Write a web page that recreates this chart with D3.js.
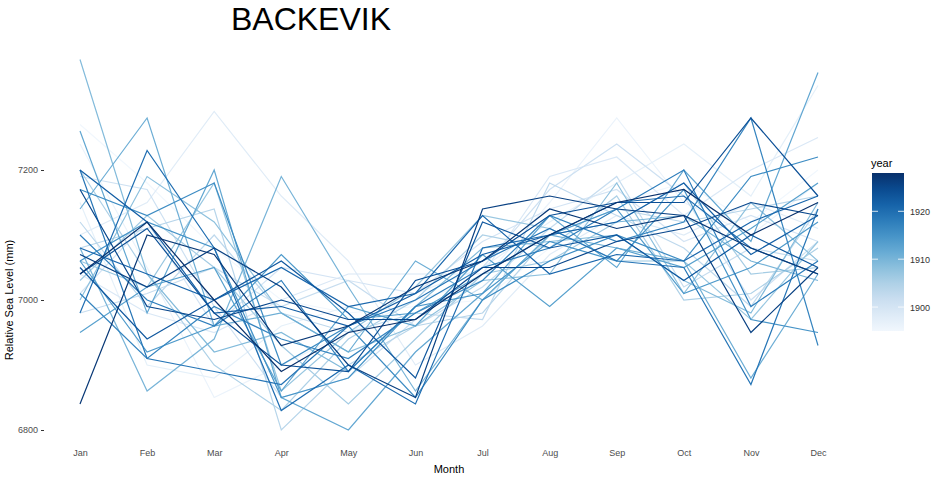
<!DOCTYPE html>
<html>
<head>
<meta charset="utf-8">
<script src="https://cdn.jsdelivr.net/npm/d3@7"></script>
<style>
  body { margin: 0; background: #fff; font-family: "Liberation Sans", Arial, sans-serif; }
</style>
</head>
<body>
<div id="chart"></div>
<script>
// Data
const months = ["Jan","Feb","Mar","Apr","May","Jun","Jul","Aug","Sep","Oct","Nov","Dec"];
const years = d3.range(1895, 1929);
const seaLevels = [
  [7270,7180,7080,7000,6980,6990,7000,7080,7150,7180,7120,7200],
  [7240,7050,6850,6900,6950,7000,7030,7150,7280,7150,7100,7180],
  [7150,6900,6880,6960,6990,7010,7050,7120,7180,7240,7160,7330],
  [7100,7150,7290,7160,7060,6900,6960,7070,7130,7100,7150,7110],
  [7040,6980,6950,7000,7040,7040,7040,7190,7220,7130,7200,7250],
  [7010,7120,6960,7050,7030,7010,7090,7140,7170,7090,7130,7090],
  [7190,7170,6990,6850,6880,6970,7050,7170,7240,7160,7000,7090],
  [6980,7010,7050,6990,7030,6960,7020,7110,7190,7020,7080,7060],
  [7120,6990,7100,6980,6950,6980,6970,7180,7130,7080,6990,7140],
  [7080,7110,7140,6800,6900,6960,6980,7100,7140,7120,7140,7160],
  [7200,7040,6900,6830,6940,7000,7100,7080,7160,7000,7010,7080],
  [7030,7130,7050,6930,6840,6940,7040,7060,7120,7180,7040,7050],
  [7060,7020,7180,6860,6950,7020,7130,7110,7060,7060,6970,7090],
  [7000,7190,7120,6980,6920,6960,7030,7040,7180,7010,7150,7060],
  [7370,7040,6920,6950,6890,6990,7080,7090,7100,7030,6980,7150],
  [7080,6860,6940,7190,7020,6860,7000,7100,7120,7130,7060,7030],
  [7140,7280,6960,6980,6920,7060,7000,7100,7080,7060,6880,7040],
  [7260,6980,7200,6850,6800,6920,7010,7130,7050,7200,7090,7350],
  [6950,7020,7050,6860,6990,6960,7070,6990,7080,7050,7110,7180],
  [7060,6920,6960,7070,6970,6980,7040,7100,7140,7010,7050,7120],
  [7060,7120,7080,6850,6880,6990,7010,7090,7060,7170,6970,6950],
  [7170,7130,7180,6900,6960,6850,7000,7060,7100,7060,7190,7220],
  [7010,6910,6990,6940,6910,6980,7030,7130,7090,7120,7280,6930],
  [7100,7000,6960,7030,6890,6990,7050,7080,7140,7200,6990,7060],
  [7200,6910,6890,6870,6960,7000,7060,7110,7060,7050,6870,7140],
  [6980,7230,7080,6830,6900,6840,7080,7100,7150,7160,7080,7040],
  [7080,7040,7000,7050,6990,7010,7130,7040,7070,7060,7120,7160],
  [7200,7120,6980,6990,6960,7010,7070,7100,7120,7180,7070,7130],
  [7050,6940,7000,7060,6980,6880,7120,7080,7100,7030,7100,7050],
  [7040,7110,6980,6900,6890,7030,7060,7130,7150,7150,7280,7160],
  [7170,6990,6970,7000,6970,6970,7050,7050,7090,7110,7150,7130],
  [7070,7020,7080,7020,6900,6850,7140,7160,7140,7130,6950,7050],
  [6840,7100,7070,6930,6960,7020,7060,7140,7110,7130,7080,7040],
  [7040,7120,7000,6890,6950,6970,7040,7100,7150,7170,7100,7150]
];
const yTicks = [6800, 7000, 7200];
const legendTicks = [1900, 1910, 1920];

const width = 940, height = 480;
const svg = d3.select("#chart").append("svg")
  .attr("width", width).attr("height", height);

const x = d3.scalePoint().domain(months).range([80, 818]);
const y = d3.scaleLinear().domain([6800, 7200]).range([430, 170]);
const color = d3.scaleSequential(t => d3.interpolateBlues(0.03 + t * 0.97))
  .domain([1895, 1928]);

// Title
svg.append("text").attr("x", 311).attr("y", 30)
  .attr("text-anchor", "middle").attr("font-size", 32).text("BACKEVIK");

// Lines
const line = d3.line().x((d, i) => x(months[i])).y(d => y(d));
svg.append("g").selectAll("path")
  .data(seaLevels)
  .join("path")
  .attr("d", line)
  .attr("fill", "none")
  .attr("stroke", (d, i) => color(years[i]))
  .attr("stroke-width", 1.2);

// Y axis
const yAxis = svg.append("g").attr("transform", "translate(44,0)")
  .call(d3.axisLeft(y).tickValues(yTicks).tickFormat(d3.format("d")).tickSize(3).tickPadding(3));
yAxis.select(".domain").remove();
yAxis.selectAll("line").attr("stroke", "#333");
yAxis.selectAll("text").attr("font-size", 9).attr("fill", "#4d4d4d")
  .attr("font-family", "Liberation Sans, Arial, sans-serif");

// X axis
const xAxis = svg.append("g").attr("transform", "translate(0,446)")
  .call(d3.axisBottom(x).tickSize(0).tickPadding(4));
xAxis.select(".domain").remove();
xAxis.selectAll("text").attr("font-size", 9).attr("fill", "#4d4d4d")
  .attr("font-family", "Liberation Sans, Arial, sans-serif");

// Axis titles
svg.append("text").attr("x", 449).attr("y", 473)
  .attr("text-anchor", "middle").attr("font-size", 11).text("Month");
svg.append("text").attr("transform", "translate(13,300) rotate(-90)")
  .attr("text-anchor", "middle").attr("font-size", 11).text("Relative Sea Level (mm)");

// Legend colourbar
const lg = svg.append("g");
const defs = svg.append("defs");
const grad = defs.append("linearGradient").attr("id", "yearGrad")
  .attr("x1", 0).attr("y1", 1).attr("x2", 0).attr("y2", 0);
d3.range(0, 1.01, 0.1).forEach(t => {
  grad.append("stop").attr("offset", t)
    .attr("stop-color", color(1895 + t * 33));
});
const ly = d3.scaleLinear().domain([1895, 1928]).range([331, 173]);
lg.append("rect").attr("x", 872).attr("y", 173).attr("width", 32)
  .attr("height", 158).attr("fill", "url(#yearGrad)");
legendTicks.forEach(t => {
  lg.append("line").attr("x1", 872).attr("x2", 878).attr("y1", ly(t)).attr("y2", ly(t))
    .attr("stroke", "#fff").attr("stroke-width", 0.8);
  lg.append("line").attr("x1", 898).attr("x2", 904).attr("y1", ly(t)).attr("y2", ly(t))
    .attr("stroke", "#fff").attr("stroke-width", 0.8);
  lg.append("text").attr("x", 910).attr("y", ly(t) + 3.5)
    .attr("font-size", 9).attr("fill", "#333").text(t);
});
lg.append("text").attr("x", 871).attr("y", 167).attr("font-size", 11).text("year");
</script>
</body>
</html>
